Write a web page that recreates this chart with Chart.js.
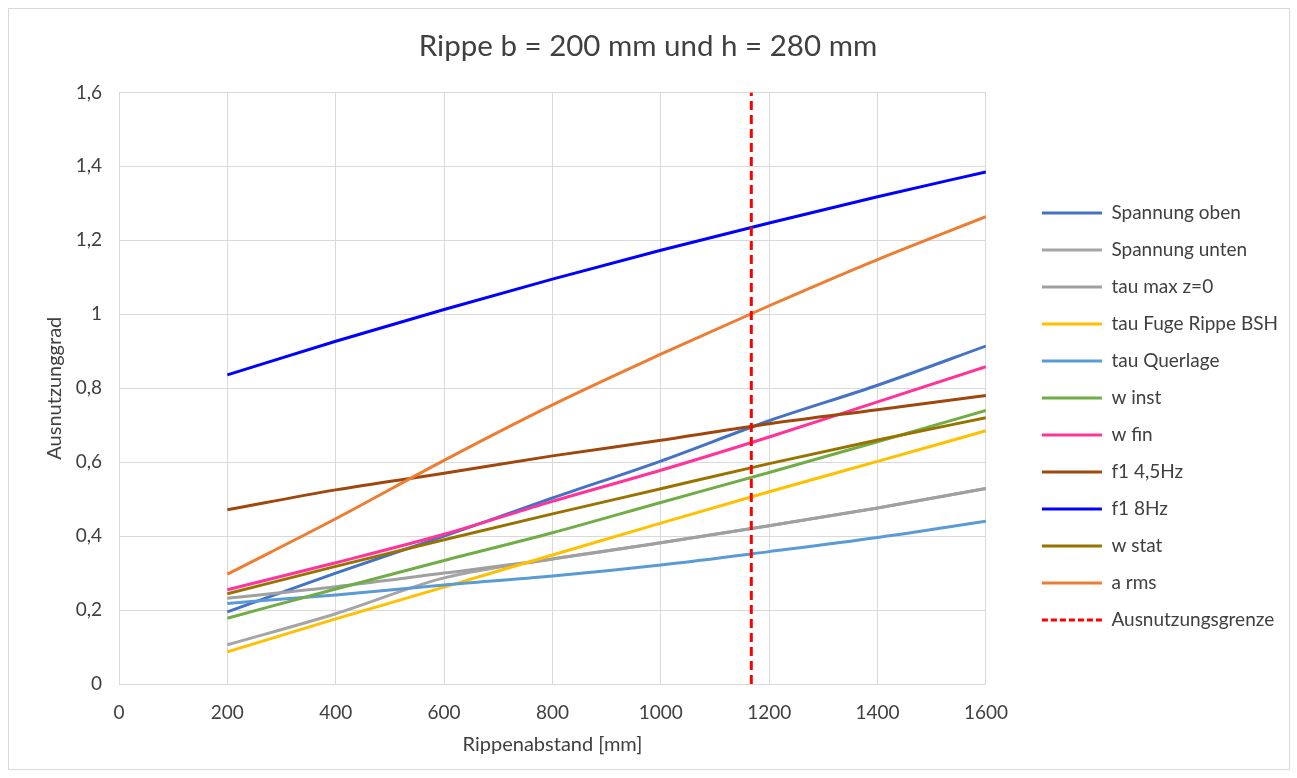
<!DOCTYPE html>
<html>
<head>
<meta charset="utf-8">
<script src="https://cdn.jsdelivr.net/npm/chart.js@4.4.1/dist/chart.umd.min.js"></script>
<style>
  html, body { margin: 0; padding: 0; background: #fff; }
  #wrap { position: relative; width: 1297px; height: 778px; }
  #frame { position: absolute; left: 8px; top: 8px; width: 1280px; height: 760px; border: 1px solid #d9d9d9; pointer-events: none; }
</style>
</head>
<body>
<div id="wrap">
  <canvas id="chart" width="1297" height="778"></canvas>
  <div id="frame"></div>
</div>
<script>
// Rippenabstand [mm]
const abstand = [200, 400, 600, 800, 1000, 1200, 1400, 1600];

// Ausnutzungsgrade je Nachweis
const spannungOben   = [0.195, 0.300, 0.400, 0.503, 0.603, 0.712, 0.808, 0.914];
const spannungUnten  = [0.106, 0.190, 0.287, 0.338, 0.382, 0.428, 0.476, 0.529];
const tauMaxZ0       = [0.232, 0.263, 0.300, 0.338, 0.382, 0.428, 0.476, 0.529];
const tauFuge        = [0.087, 0.176, 0.262, 0.349, 0.435, 0.520, 0.602, 0.685];
const tauQuerlage    = [0.218, 0.241, 0.268, 0.292, 0.322, 0.358, 0.396, 0.440];
const wInst          = [0.178, 0.257, 0.334, 0.409, 0.491, 0.572, 0.655, 0.740];
const wFin           = [0.255, 0.328, 0.405, 0.494, 0.578, 0.668, 0.763, 0.858];
const f1_45Hz        = [0.471, 0.525, 0.570, 0.617, 0.659, 0.704, 0.742, 0.780];
const f1_8Hz         = [0.836, 0.927, 1.013, 1.095, 1.173, 1.247, 1.318, 1.385];
const wStat          = [0.244, 0.318, 0.390, 0.460, 0.528, 0.596, 0.660, 0.720];
const aRms           = [0.297, 0.447, 0.605, 0.755, 0.892, 1.023, 1.148, 1.264];

// Ausnutzungsgrenze (senkrechte Linie)
const grenzeX = [1167, 1167];
const grenzeY = [0, 1.6];

const serien = [
  { label: 'Spannung oben', werte: spannungOben, farbe: '#4472C4' },
  { label: 'Spannung unten', werte: spannungUnten, farbe: '#A5A5A5' },
  { label: 'tau max z=0', werte: tauMaxZ0, farbe: '#A0A0A0' },
  { label: 'tau Fuge Rippe BSH', werte: tauFuge, farbe: '#FFC000' },
  { label: 'tau Querlage', werte: tauQuerlage, farbe: '#5B9BD5' },
  { label: 'w inst', werte: wInst, farbe: '#70AD47' },
  { label: 'w fin', werte: wFin, farbe: '#FF3399' },
  { label: 'f1 4,5Hz', werte: f1_45Hz, farbe: '#9E480E' },
  { label: 'f1 8Hz', werte: f1_8Hz, farbe: '#0000FF' },
  { label: 'w stat', werte: wStat, farbe: '#997300' },
  { label: 'a rms', werte: aRms, farbe: '#ED7D31' }
];

const textFarbe = '#404040';
const gitterFarbe = '#d9d9d9';
const schrift = 'Lato';

const datasets = serien.map((s) => ({
  label: s.label,
  data: abstand.map((x, i) => ({ x: x, y: s.werte[i] })),
  borderColor: s.farbe,
  backgroundColor: s.farbe,
  borderWidth: 3,
  pointRadius: 0,
  fill: false,
  cubicInterpolationMode: 'monotone'
}));

datasets.push({
  label: 'Ausnutzungsgrenze',
  data: grenzeX.map((x, i) => ({ x: x, y: grenzeY[i] })),
  borderColor: '#FF0000',
  backgroundColor: '#FF0000',
  borderWidth: 3,
  borderDash: [9, 5],
  pointRadius: 0,
  fill: false
});

// later series drawn on top (like Excel)
datasets.forEach((d, i) => { d.order = datasets.length - i; });

const fmtKomma = (v) => Number(v.toFixed(1)).toString().replace('.', ',');

// legend items: keep the dataset's line dash and width
const legendLabels = (chart) => {
  const items = Chart.defaults.plugins.legend.labels.generateLabels(chart);
  items.forEach((item) => {
    const ds = chart.data.datasets[item.datasetIndex];
    item.lineDash = ds.borderDash ? [6, 3] : [];
    item.lineWidth = 3;
    item.strokeStyle = ds.borderColor;
  });
  return items;
};

new Chart(document.getElementById('chart'), {
  type: 'line',
  data: { datasets },
  options: {
    responsive: false,
    animation: false,
    layout: { padding: { left: 8, right: 9, top: 0, bottom: 8 } },
    plugins: {
      tooltip: { enabled: false },
      title: {
        display: true,
        text: 'Rippe b = 200 mm und h = 280 mm',
        color: textFarbe,
        font: { family: schrift, size: 29.5, weight: 'normal' },
        padding: { top: 29, bottom: 28 }
      },
      legend: {
        position: 'right',
        align: 'start',
        title: { display: true, text: '', font: { size: 10 }, padding: { top: 173.5, bottom: 0 } },
        labels: {
          usePointStyle: true,
          pointStyle: 'line',
          pointStyleWidth: 60,
          padding: 18,
          color: textFarbe,
          font: { family: schrift, size: 19 },
          generateLabels: legendLabels,
          sort: (a, b) => a.datasetIndex - b.datasetIndex
        }
      }
    },
    scales: {
      x: {
        type: 'linear',
        min: 0,
        max: 1600,
        ticks: {
          stepSize: 200,
          color: textFarbe,
          padding: 17,
          font: { family: schrift, size: 19 },
          maxRotation: 0,
          callback: (v) => String(v)
        },
        grid: { color: gitterFarbe, drawTicks: false },
        border: { color: gitterFarbe },
        title: {
          display: true,
          text: 'Rippenabstand [mm]',
          color: textFarbe,
          font: { family: schrift, size: 20 },
          padding: { top: 0, bottom: 13 }
        },
        afterFit: (scale) => { scale.height = 86; }
      },
      y: {
        min: 0,
        max: 1.6,
        ticks: {
          stepSize: 0.2,
          color: textFarbe,
          padding: 17,
          font: { family: schrift, size: 19 },
          callback: (v) => fmtKomma(v)
        },
        grid: { color: gitterFarbe, drawTicks: false },
        border: { color: gitterFarbe },
        title: {
          display: true,
          text: 'Ausnutzunggrad',
          color: textFarbe,
          font: { family: schrift, size: 20 },
          padding: { top: 35, bottom: 0 }
        },
        afterFit: (scale) => { scale.width = 111; }
      },
      // leerer Abstand zwischen Diagrammfläche und Legende
      abstandRechts: {
        type: 'linear',
        position: 'right',
        display: false,
        afterFit: (scale) => { scale.width = 38; }
      }
    }
  }
});
</script>
</body>
</html>
